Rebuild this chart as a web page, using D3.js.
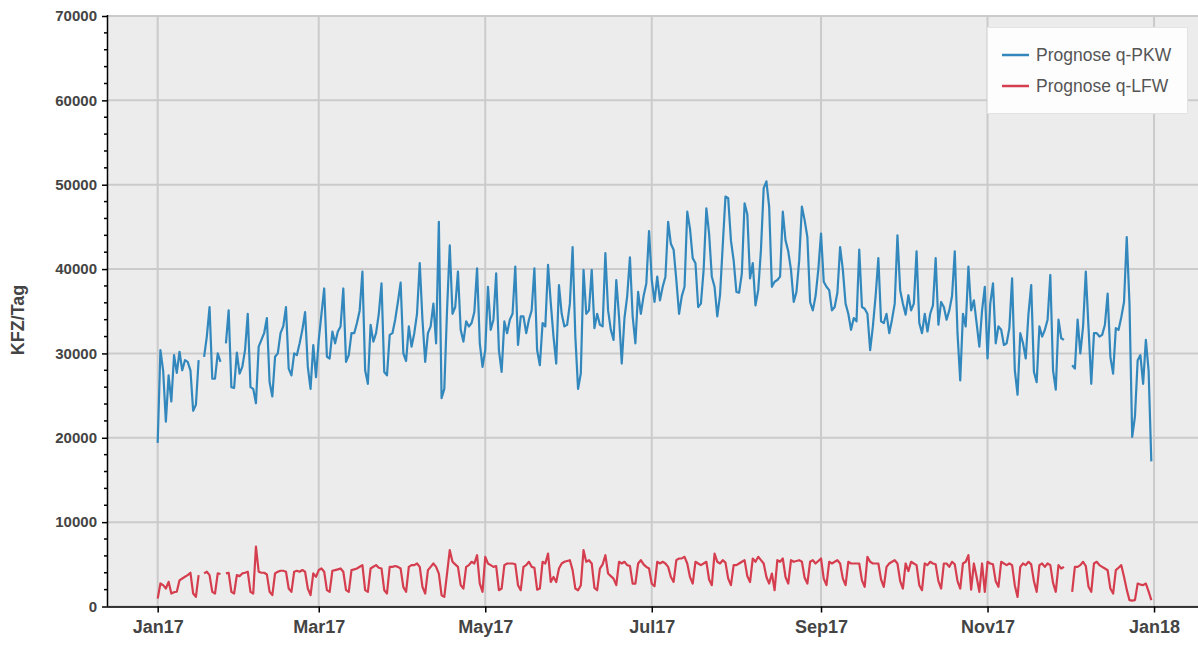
<!DOCTYPE html>
<html><head><meta charset="utf-8">
<script src="https://d3js.org/d3.v7.min.js"></script>
<style>
html,body{margin:0;padding:0;background:#fff;}
svg{display:block;font-family:"Liberation Sans",Arial,Helvetica,sans-serif;}
</style></head>
<body><svg id="chart" width="1198" height="645"></svg>
<script>
// ---- data ----
const startDate = "2017-01-01";
const seriesNames = ["Prognose q-PKW", "Prognose q-LFW"];
const seriesColors = ["#3288bd", "#d53e4f"];
// daily values (Sun..Sat per row), null = missing
const pkw = [
19400,30400,28000,21900,27400,24300,29800,
27700,30200,28000,29200,29000,28000,23200,
23900,29200,null,29600,32000,35500,27000,
27000,30000,29000,null,31200,35100,26000,
25900,30100,27600,28400,30400,34700,26000,
25800,24100,30800,31600,32400,34200,26600,
24900,29600,30000,32400,33200,35500,28200,
27400,30000,29800,31200,32800,34900,28400,
25800,31000,27200,31600,34700,37700,29600,
29400,32600,31200,32600,33200,37700,29000,
29800,32400,32400,33600,35100,39700,28000,
26400,33400,31400,32400,34700,38300,27800,
27400,32200,32400,34000,36100,38400,30000,
29100,33200,30800,32400,34700,40700,34000,
29000,32400,33200,35900,31200,45600,24700,
25800,35100,42800,34700,35500,39700,32800,
31400,33800,33200,33600,34900,40100,31200,
28400,30400,37900,32800,34000,39500,30400,
27800,33800,32400,34000,34700,40300,31000,
34400,34400,32400,34000,35100,40100,30400,
28600,33600,33200,40500,36000,32000,28800,
38100,34700,33200,33400,35900,42600,32000,
25800,27600,39900,34700,35100,39900,33000,
34700,33400,33200,41900,35100,32800,31600,
38700,34400,28800,34200,36800,41400,34400,
31200,37300,34700,36800,38300,44500,38700,
36100,39100,36300,37900,39100,45600,43000,
42300,38700,34700,36800,37900,46800,44800,
41300,40700,35500,35900,39900,47200,44200,
39100,37900,34400,36900,42800,48600,48400,
43400,41000,37300,37200,39500,47800,46500,
38900,40700,35700,37500,42300,49600,50400,
47400,37900,38500,38700,39100,46800,43400,
42100,39900,36100,37300,41000,47400,45800,
43800,36100,35100,36800,39900,44200,38500,
37900,37500,35100,35500,37200,42600,39900,
35900,34700,32800,34200,33800,42300,35500,
35300,34700,30400,33200,36800,41300,33800,
33600,34700,32400,34000,35900,44000,37500,
35900,34600,36900,35100,35900,42100,33600,
32400,34700,32600,34700,35700,41300,33400,
36100,35500,34000,35100,36800,42100,32400,
26800,34700,33200,40300,35100,36300,33600,
30800,35100,37900,29400,35900,38300,31200,
33200,32800,31000,31200,33000,38900,28000,
25100,32400,31200,29400,34700,38100,27800,
26600,33200,32000,32800,34000,39300,28000,
25700,34000,31800,31600,null,null,28600,
28200,34000,30000,33200,39700,33000,26400,
32400,32400,32000,32200,33400,37100,29600,
27600,33000,32800,34300,36100,43800,35900,
20100,22500,29200,29800,26400,31600,28000,
17200
];
const lfw = [
950,2730,2530,2130,2920,1540,1700,
1750,3100,3320,3520,3720,4000,1540,
1150,3720,null,3920,4120,3720,1740,
1540,3920,3850,null,3920,4000,1740,
1540,3720,3600,3920,4000,4120,1740,
1540,7100,4120,4000,4000,3800,1740,
1350,3920,4120,4240,4240,4120,2130,
1740,4120,4240,4120,4320,4120,2130,
1350,3920,3520,4320,4510,4120,1940,
1740,4240,4320,4400,4510,4120,1940,
1740,4320,4400,4510,4710,4900,1940,
1740,4510,4710,4900,4600,4500,1930,
1540,4700,4700,4800,4700,4500,2300,
1740,4700,4900,4900,5100,4700,2330,
1540,4310,4700,5100,4700,3900,1340,
1140,3900,6680,5300,5000,4700,2530,
2130,4700,4900,5300,5100,6080,2720,
1740,5890,5100,4900,4700,4800,1930,
2130,4900,5100,5100,5100,5000,2530,
1930,4700,4900,5300,4700,4600,2000,
2130,5300,5100,6280,2920,3500,2900,
4500,5100,5300,5400,5490,4310,2130,
1930,2500,6680,5300,5490,5100,2200,
1930,4500,5000,6080,3910,3600,3300,
2530,5300,5100,5300,4900,4800,2720,
2720,5100,5490,5000,4700,4500,2700,
2400,5300,5100,5300,5100,4700,3500,
2920,5490,5690,5700,5890,5100,3500,
2720,5300,5100,4900,5100,5300,3200,
2530,6280,5300,5100,5490,5200,3300,
2530,4900,4900,5100,5300,5490,3600,
2900,5690,5300,5890,5500,5100,3500,
2720,3910,1930,5490,5300,5690,3500,
2720,5490,5300,5400,5490,5300,3400,
2720,5300,5490,5100,5400,5690,3300,
2530,5300,5100,5300,5490,5100,3300,
2530,5300,5100,5100,5100,5100,3100,
2330,5890,5300,5100,5100,5100,3200,
2330,4700,5100,5300,5490,5100,3000,
2130,5100,4200,5300,5100,4900,2530,
1930,5100,4900,5300,5100,5000,3000,
2130,5100,5100,4700,5300,5000,3000,
2130,5100,5300,6080,2000,5100,3500,
1740,5100,1740,5300,5100,5000,3000,
2330,5300,5100,4900,5100,4900,2500,
1140,4700,5100,4900,5300,5000,3000,
1740,4900,5100,4700,5100,4900,2800,
1740,4900,4500,4700,null,null,1740,
4700,4700,4900,5300,4800,2330,1740,
5100,5300,4900,4700,4500,4300,2130,
1540,4310,4600,4900,3520,2000,750,
700,750,2720,2600,2530,2720,1800,
750
];
const yTicks = [0,10000,20000,30000,40000,50000,60000,70000];
const yLabel = "KFZ/Tag";

// ---- layout ----
const svg = d3.select("#chart");
const frame = {left:108, top:16, right:1201, bottom:606.5};
const t0 = d3.timeParse("%Y-%m-%d")(startDate);
const dates = pkw.map((_, i) => d3.timeDay.offset(t0, i));
const tMin = dates[0], tMax = dates[dates.length-1];
const pad = (tMax - tMin) * 0.05;
const x = d3.scaleTime().domain([new Date(+tMin - pad), new Date(+tMax + pad)]).range([frame.left, frame.right]);
const y = d3.scaleLinear().domain([0,70000]).range([frame.bottom, frame.top]);

svg.append("rect").attr("x",frame.left).attr("y",frame.top-1)
  .attr("width",frame.right-frame.left).attr("height",frame.bottom-frame.top+1)
  .attr("fill","#ececec");

const xTickVals = d3.timeMonth.every(2).range(d3.timeMonth.floor(tMin), new Date(2018,1,1));
// grid
const grid = svg.append("g").attr("stroke","#cbcbcb").attr("stroke-width",2);
grid.selectAll("line.h").data(yTicks).join("line")
  .attr("x1",frame.left).attr("x2",frame.right)
  .attr("y1",d=>y(d)).attr("y2",d=>y(d));
grid.selectAll("line.v").data(xTickVals).join("line")
  .attr("x1",d=>x(d)).attr("x2",d=>x(d))
  .attr("y1",frame.top).attr("y2",frame.bottom);

// lines
const line = d3.line().defined(d => d[1] != null).x(d => x(d[0])).y(d => y(d[1]));
[pkw, lfw].forEach((vals, k) => {
  svg.append("path")
    .datum(vals.map((v,i)=>[dates[i], v]))
    .attr("fill","none").attr("stroke",seriesColors[k])
    .attr("stroke-width",2.2).attr("stroke-linejoin","round")
    .attr("d", line);
});

// axes
const fmt = d3.timeFormat("%b%y");
const xAxis = d3.axisBottom(x).tickValues(xTickVals).tickFormat(fmt).tickSize(6).tickPadding(8);
const gx = svg.append("g").attr("transform",`translate(0,${frame.bottom})`).call(xAxis);
gx.select(".domain").attr("d",`M${frame.left},0.5H${frame.right}`).attr("stroke","#000").attr("stroke-width",1.5);
gx.selectAll(".tick line").attr("stroke","#000").attr("stroke-width",1.5);
gx.selectAll(".tick text").attr("fill","#444").attr("font-size","18px").attr("font-weight","bold")
  .attr("font-family","'Liberation Sans',Arial,sans-serif");

const yAxis = d3.axisLeft(y).tickValues(yTicks).tickFormat(d3.format("d")).tickSize(6).tickPadding(5);
const gy = svg.append("g").attr("transform",`translate(${frame.left},0)`).call(yAxis);
gy.select(".domain").attr("d",`M-0.5,${frame.top-1}V${frame.bottom}`).attr("stroke","#000").attr("stroke-width",1.5);
gy.selectAll(".tick line").attr("stroke","#000").attr("stroke-width",1.5);
gy.selectAll(".tick text").attr("fill","#444").attr("font-size","15px").attr("font-weight","bold")
  .attr("font-family","'Liberation Sans',Arial,sans-serif");
const minor = d3.range(0, 70001, 2000).filter(v => v % 10000 !== 0);
gy.selectAll("line.minor").data(minor).join("line").attr("class","minor")
  .attr("x1",0).attr("x2",-4).attr("y1",d=>y(d)).attr("y2",d=>y(d))
  .attr("stroke","#000").attr("stroke-width",1.5);

svg.append("text").attr("transform",`translate(24,320) rotate(-90)`)
  .attr("text-anchor","middle").attr("fill","#444").attr("font-size","18px").attr("font-weight","bold")
  .text(yLabel);

// legend
const lg = svg.append("g");
lg.append("rect").attr("x",987.5).attr("y",27.5).attr("width",200).attr("height",86)
  .attr("fill","#fdfdfd").attr("stroke","#e3e3e3").attr("stroke-width",1);
seriesNames.forEach((n,k)=>{
  const yy = 55 + k*31;
  lg.append("line").attr("x1",1002).attr("x2",1029).attr("y1",yy).attr("y2",yy)
    .attr("stroke",seriesColors[k]).attr("stroke-width",2.5);
  lg.append("text").attr("x",1036).attr("y",yy).attr("dy","0.35em")
    .attr("fill","#555").attr("font-size","17.5px").text(n);
});
</script></body></html>
